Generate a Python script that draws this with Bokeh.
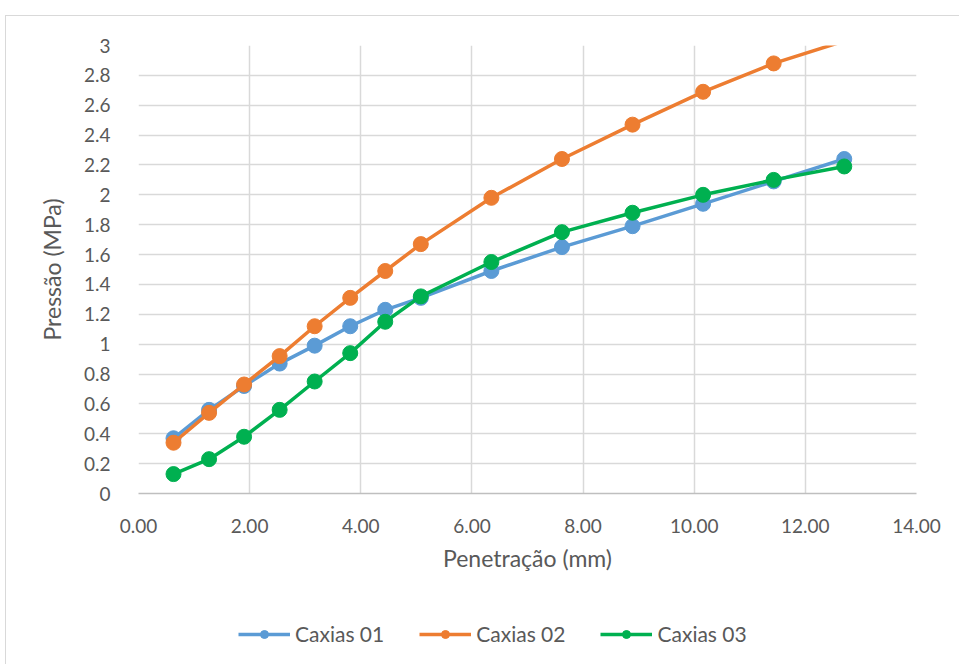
from bokeh.plotting import figure
from bokeh.models import (Range1d, FixedTicker, NumeralTickFormatter, Legend, LegendItem)
from bokeh.layouts import column
from bokeh.embed import file_html
from bokeh.resources import INLINE

# Data
penetracao = [0.63, 1.27, 1.90, 2.54, 3.17, 3.81, 4.44, 5.08, 6.35, 7.62, 8.89, 10.16, 11.43, 12.70]
caxias01 = [0.37, 0.56, 0.72, 0.87, 0.99, 1.12, 1.23, 1.31, 1.49, 1.65, 1.79, 1.94, 2.09, 2.24]
caxias02 = [0.34, 0.54, 0.73, 0.92, 1.12, 1.31, 1.49, 1.67, 1.98, 2.24, 2.47, 2.69, 2.88, 3.03]
caxias03 = [0.13, 0.23, 0.38, 0.56, 0.75, 0.94, 1.15, 1.32, 1.55, 1.75, 1.88, 2.00, 2.10, 2.19]
series_names = ["Caxias 01", "Caxias 02", "Caxias 03"]
series_colors = ["#5b9bd5", "#ed7d31", "#00b050"]
x_ticks = [0, 2, 4, 6, 8, 10, 12, 14]
y_ticks = [0, 0.2, 0.4, 0.6, 0.8, 1.0, 1.2, 1.4, 1.6, 1.8, 2.0, 2.2, 2.4, 2.6, 2.8, 3.0]
y_tick_labels = ["0", "0.2", "0.4", "0.6", "0.8", "1", "1.2", "1.4", "1.6", "1.8", "2", "2.2", "2.4", "2.6", "2.8", "3"]

FONT = "Lato"
TXT = "#595959"
Y_MAX = 3.0

# main chart: page y 15..590
p = figure(width=954, height=575, output_backend="svg", toolbar_location=None,
           x_range=Range1d(0, 14), y_range=Range1d(0, Y_MAX),
           min_border_left=132, min_border_right=44, min_border_top=29, min_border_bottom=98)
p.outline_line_color = None
p.background_fill_color = "white"
p.border_fill_color = "white"

p.xaxis.ticker = FixedTicker(ticks=x_ticks)
p.xaxis.formatter = NumeralTickFormatter(format="0.00")
p.yaxis.ticker = FixedTicker(ticks=y_ticks)
p.yaxis.major_label_overrides = {t: l for t, l in zip(y_ticks, y_tick_labels)}

for ax in (p.xaxis, p.yaxis):
    ax.major_tick_line_color = None
    ax.minor_tick_line_color = None
    ax.major_label_text_font = FONT
    ax.major_label_text_font_size = "19px"
    ax.major_label_text_color = TXT
    ax.axis_label_text_font = FONT
    ax.axis_label_text_font_size = "23px"
    ax.axis_label_text_color = TXT
    ax.axis_label_text_font_style = "normal"

p.xaxis.axis_line_color = "#bfbfbf"
p.xaxis.axis_line_width = 1.5
p.yaxis.axis_line_color = None
p.xaxis.major_label_standoff = 19
p.yaxis.major_label_standoff = 22
p.xaxis.axis_label = "Penetração (mm)"
p.yaxis.axis_label = "Pressão (MPa)"
p.xaxis.axis_label_standoff = 8
p.yaxis.axis_label_standoff = 15

p.xgrid.ticker = FixedTicker(ticks=x_ticks)
p.ygrid.ticker = FixedTicker(ticks=y_ticks)
p.grid.grid_line_color = "#d9d9d9"
p.grid.grid_line_width = 1.5

for name, ys, col in zip(series_names, [caxias01, caxias02, caxias03], series_colors):
    p.line(penetracao, ys, line_color=col, line_width=3.5)
    xs_in = [x for x, y in zip(penetracao, ys) if y <= Y_MAX]
    ys_in = [y for y in ys if y <= Y_MAX]
    p.scatter(xs_in, ys_in, size=15, fill_color=col, line_color=col)

# legend strip: page y 590..664
q = figure(width=954, height=74, output_backend="svg", toolbar_location=None,
           x_axis_type=None, y_axis_type=None,
           x_range=Range1d(100, 101), y_range=Range1d(100, 101),
           min_border=0)
q.outline_line_color = None
q.grid.visible = False
q.background_fill_color = "white"
q.border_fill_color = "white"
items = []
for name, ys, col in zip(series_names, [caxias01, caxias02, caxias03], series_colors):
    l = q.line(penetracao, ys, line_color=col, line_width=3.5)
    s = q.scatter(penetracao, ys, size=15, fill_color=col, line_color=col)
    items.append(LegendItem(label=name, renderers=[l, s]))
legend = Legend(items=items, orientation="horizontal", location=(100, 19),
                border_line_color=None, background_fill_alpha=0,
                label_text_font=FONT, label_text_font_size="21px", label_text_color=TXT,
                glyph_width=52, spacing=35, label_standoff=5, padding=4)
q.add_layout(legend, "center")

layout = column(p, q, spacing=0)
layout.margin = (15, 0, 0, 5)
layout.styles = {"border-top": "1px solid #d9d9d9", "border-left": "1px solid #d9d9d9"}

open("out.html", "w").write(file_html(layout, INLINE))
